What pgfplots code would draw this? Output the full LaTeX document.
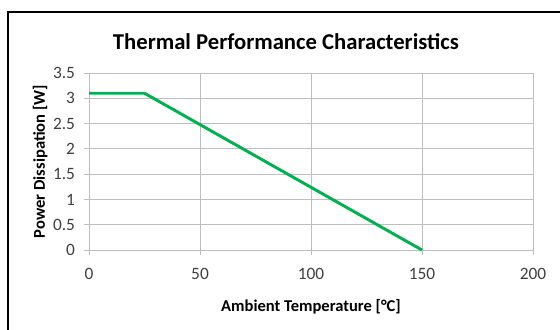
\documentclass[border=0pt]{standalone}
\usepackage{fontspec}
\setmainfont{Carlito}
\usepackage{pgfplots}
\pgfplotsset{compat=1.18}
\definecolor{linegreen}{RGB}{0,176,80}
\definecolor{gridgray}{RGB}{190,190,190}
\definecolor{ticktext}{RGB}{64,64,64}
\begin{document}
\begin{tikzpicture}
\useasboundingbox (0,0) rectangle (420pt,246.75pt);
\fill[white] (0,0) rectangle (420pt,246.75pt);
\draw[black, line width=1.6pt] (6pt,-5pt) -- (6pt,237.75pt) -- (425pt,237.75pt);
\begin{axis}[
  at={(66.75pt,59.25pt)}, anchor=origin,
  scale only axis,
  width=333pt, height=132.75pt,
  xmin=0, xmax=200, ymin=0, ymax=3.5,
  xtick={0,50,100,150,200},
  ytick={0,0.5,1,1.5,2,2.5,3,3.5},
  yticklabels={0,0.5,1,1.5,2,2.5,3,3.5},
  xticklabels={0,50,100,150,200},
  grid=major,
  major grid style={gridgray, line width=0.6pt},
  axis line style={gridgray, line width=0.6pt},
  tick style={gridgray, line width=0.6pt},
  tick align=outside,
  major tick length=3.5pt,
  xtick pos=bottom, ytick pos=left,
  ticklabel style={font=\fontsize{13}{15}\selectfont, text=ticktext},
  xticklabel style={yshift=-6.5pt},
  yticklabel style={xshift=-3.5pt},
  every axis title shift=0pt,
  title={Thermal Performance Characteristics},
  title style={at={(axis description cs:0.4437,1.175)}, anchor=center, font=\fontsize{17}{20}\selectfont\bfseries},
  xlabel={Ambient Temperature [°C]},
  xlabel style={at={(axis description cs:0.5,-0.318)}, anchor=center, font=\fontsize{12.4}{14}\selectfont\bfseries},
  ylabel={Power Dissipation [W]},
  ylabel style={at={(axis description cs:-0.110,0.5)}, anchor=center, rotate=0, font=\fontsize{12.4}{14}\selectfont\bfseries},
  clip=false,
]
\addplot[linegreen, line width=2.2pt] coordinates {(0,3.1) (25,3.1) (150,0)};
\end{axis}
\end{tikzpicture}
\end{document}
